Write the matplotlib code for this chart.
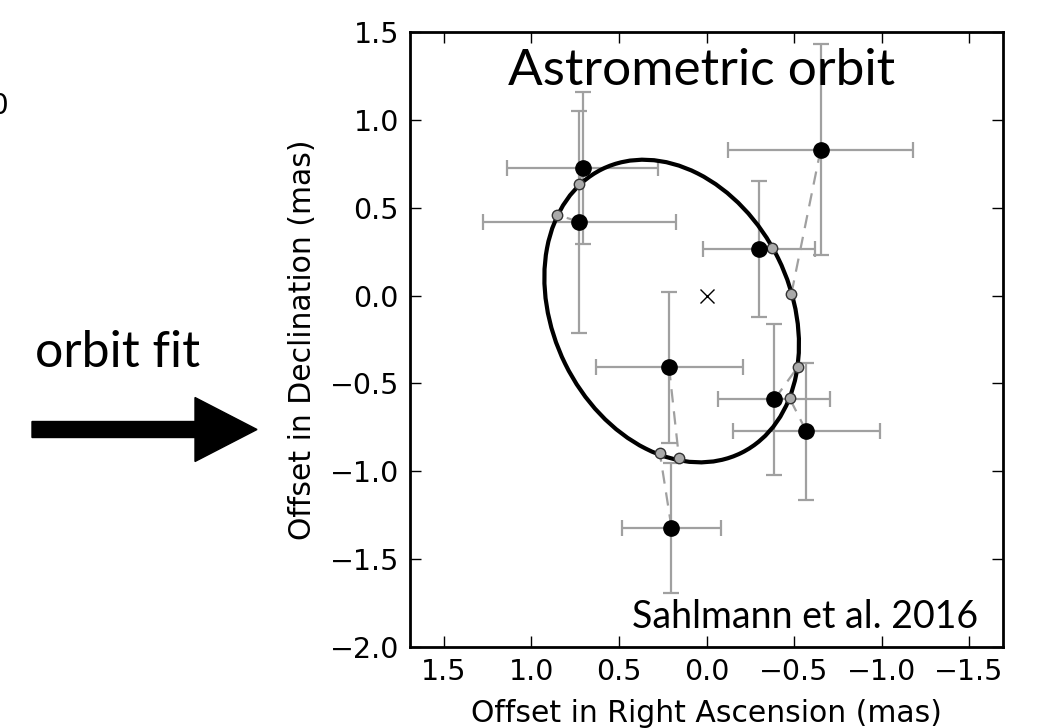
import numpy as np
import matplotlib.pyplot as plt
from matplotlib.patches import Ellipse, FancyArrow

# ─────────────────────────────────────────
# DATA (read off the Sahlmann et al. 2016 panel)
# ─────────────────────────────────────────
ra_obs = [0.708, 0.726, -0.652, -0.300, 0.214, 0.200, -0.388, -0.570]
dec_obs = [0.726, 0.419, 0.830, 0.265, -0.407, -1.320, -0.591, -0.771]
ra_err = [0.43, 0.55, 0.53, 0.32, 0.42, 0.28, 0.32, 0.42]
dec_err = [0.43, 0.63, 0.60, 0.385, 0.43, 0.37, 0.43, 0.39]

# model positions on the fitted orbit, same order as the observations
ra_model = [0.726, 0.854, -0.485, -0.373, 0.157, 0.267, -0.521, -0.475]
dec_model = [0.636, 0.460, 0.010, 0.269, -0.926, -0.894, -0.407, -0.585]

# fitted orbit ellipse: centre, full axes (mas), tilt (deg)
orbit_center = (0.199, -0.088)
orbit_width = 1.80
orbit_height = 1.357
orbit_angle = 63.7

xticks = [1.5, 1.0, 0.5, 0.0, -0.5, -1.0, -1.5]
yticks = [1.5, 1.0, 0.5, 0.0, -0.5, -1.0, -1.5, -2.0]

W, H = 1039, 728
GRAY = "#a0a0a0"

fig = plt.figure(figsize=(W / 100, H / 100), dpi=100)

# ─────────────────────────────────────────
# main panel
# ─────────────────────────────────────────
ax = fig.add_axes([410 / W, 1 - 647 / H, 593 / W, 615 / H])

ax.errorbar(ra_obs, dec_obs, xerr=ra_err, yerr=dec_err, fmt="none",
            ecolor=GRAY, elinewidth=1.6, capsize=5.5, capthick=1.6, zorder=1)

for xo, yo, xm, ym in zip(ra_obs, dec_obs, ra_model, dec_model):
    ax.plot([xo, xm], [yo, ym], ls=(0, (6, 4)), color=GRAY, lw=1.6, zorder=2)

orbit = Ellipse(orbit_center, orbit_width, orbit_height, angle=orbit_angle,
                fill=False, ec="black", lw=3.0, zorder=3)
ax.add_patch(orbit)

ax.plot(ra_model, dec_model, "o", ms=7.5, mfc="#aaaaaa", mec="#333333",
        mew=1.0, ls="none", zorder=4)
ax.plot(ra_obs, dec_obs, "o", ms=11, color="black", ls="none", zorder=5)
ax.plot([0], [0], "x", ms=10, mew=1.0, color="black", zorder=5)

ax.set_xlim(1.694, -1.694)
ax.set_ylim(-2.0, 1.5)
ax.set_xticks(xticks)
ax.set_yticks(yticks)
ax.tick_params(direction="in", length=8, width=1, labelsize=20.5, pad=8,
               top=True, right=True)
for s in ax.spines.values():
    s.set_linewidth(2.0)
ax.set_xlabel("Offset in Right Ascension (mas)", fontsize=21.5, labelpad=9)
ax.set_ylabel("Offset in Declination (mas)", fontsize=21.5, labelpad=9)

# ─────────────────────────────────────────
# slide annotations
# ─────────────────────────────────────────
fig.text(702 / W, 1 - 85 / H, "Astrometric orbit", family="Lato",
         fontsize=37, ha="center", va="baseline")
fig.text(978 / W, 1 - 628 / H, "Sahlmann et al. 2016", family="Lato",
         fontsize=27, ha="right", va="baseline")
fig.text(35 / W, 1 - 367 / H, "orbit fit", family="Lato",
         fontsize=36, ha="left", va="baseline")
fig.text(8 / W, 1 - 106 / H, "0", fontsize=20, ha="right", va="center")

over = fig.add_axes([0, 0, 1, 1], zorder=-1)
over.set_xlim(0, W)
over.set_ylim(H, 0)
over.axis("off")
over.add_patch(FancyArrow(32, 429.5, 225, 0, width=16, head_width=64,
                          head_length=62, length_includes_head=True,
                          color="black"))

plt.savefig("out.png", dpi=100)
